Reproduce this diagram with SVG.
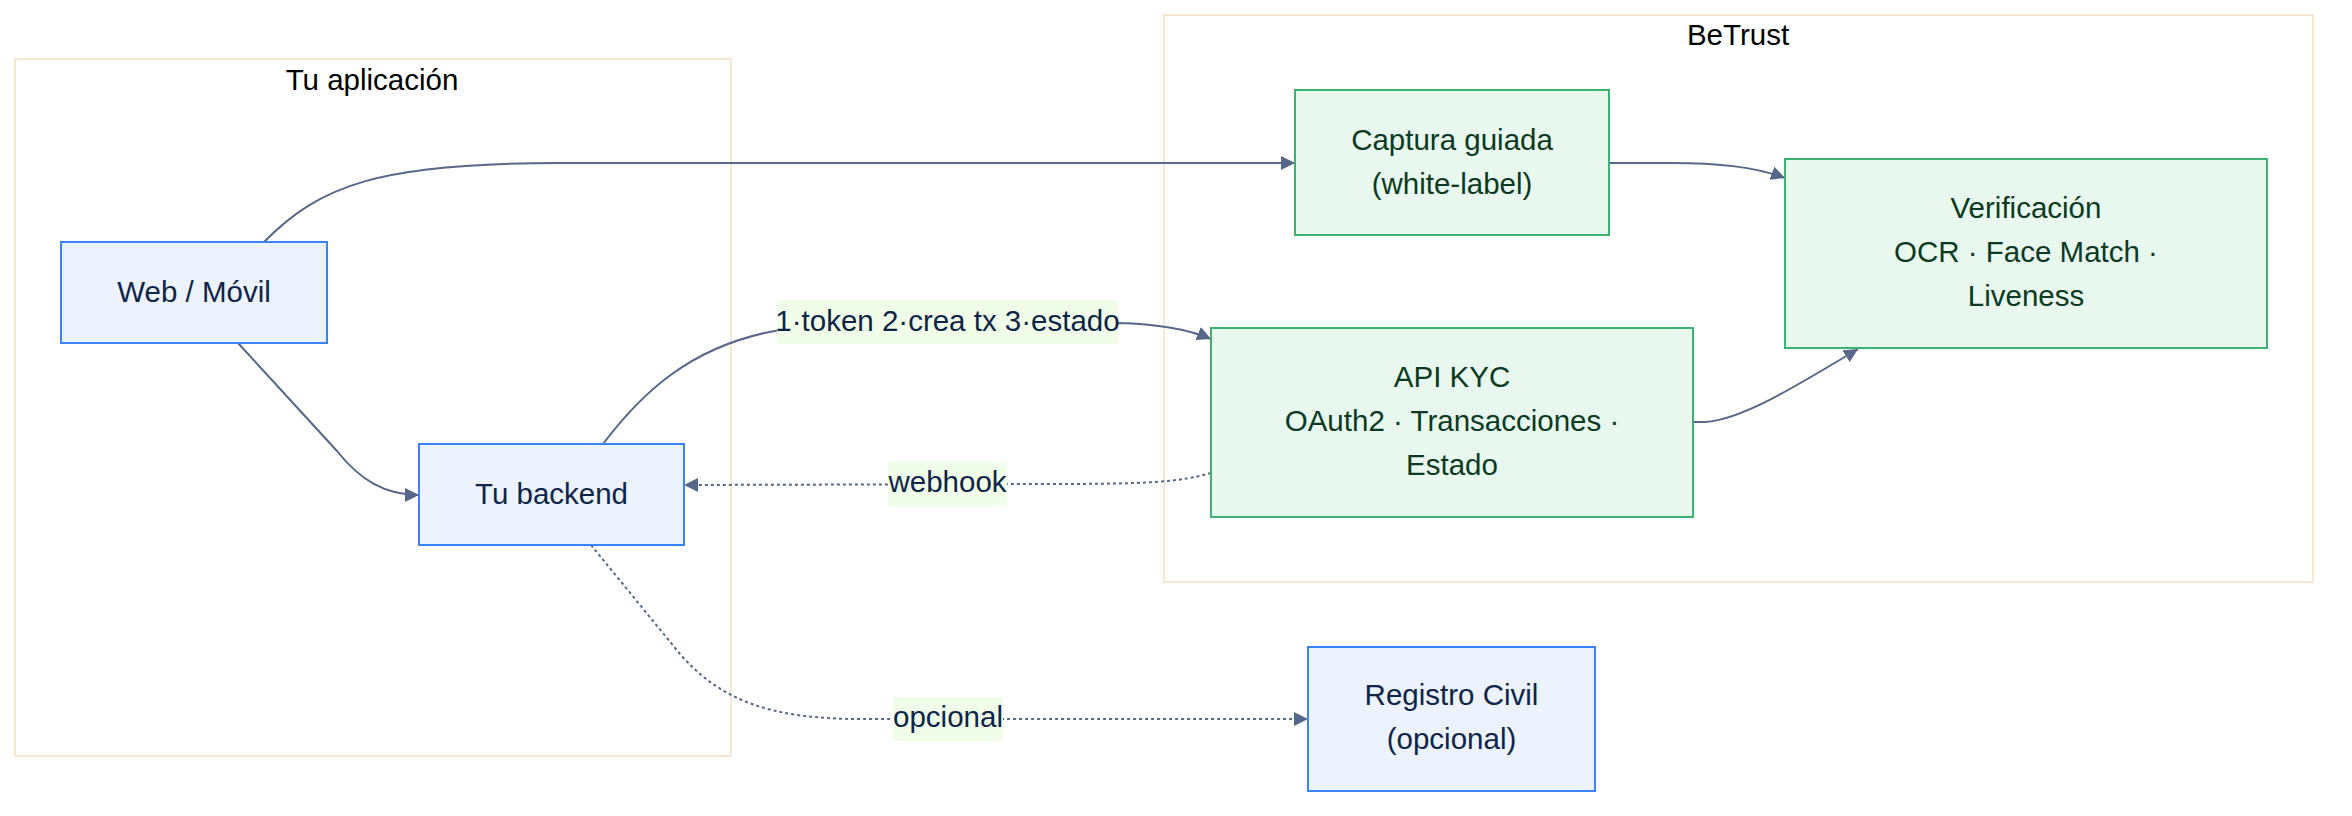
<svg xmlns="http://www.w3.org/2000/svg" width="2352" height="816" viewBox="0 0 2352 816">
<style>
text{font-family:"Liberation Sans",Arial,Helvetica,sans-serif;font-size:29.5px;text-anchor:middle}
.cluster{fill:#ffffff;stroke:#f5e7d0;stroke-width:2}
.ctitle{fill:#000000}
.blue rect{fill:#edf3fe;stroke:#3b82f6;stroke-width:2}
.blue text{fill:#0f2547}
.green rect{fill:#e8f8ee;stroke:#3cb371;stroke-width:2}
.green text{fill:#0b3a22}
.edge{fill:none;stroke:#56678a;stroke-width:2}
.dot{stroke-dasharray:3 3}
.lbg{fill:#f0fde8}
.ltxt{fill:#0f2547}
</style>
<defs>
<marker id="arr" viewBox="0 0 10 10" refX="10" refY="5" markerWidth="14" markerHeight="14" markerUnits="userSpaceOnUse" orient="auto">
<path d="M0,0 L10,5 L0,10 z" fill="#56678a"/>
</marker>
</defs>
<g id="cluster-app">
<rect class="cluster" x="15" y="59" width="716" height="697"/>
<text class="ctitle" x="372" y="90">Tu aplicación</text>
</g>
<g id="cluster-betrust">
<rect class="cluster" x="1164" y="15" width="1149" height="567"/>
<text class="ctitle" x="1738" y="45">BeTrust</text>
</g>
<g id="connectors">
<path class="edge" d="M264,242 C320,185 380,163 560,163 L1295,163" marker-end="url(#arr)"/>
<path class="edge" d="M238,343 L337,451 C360,480 385,495 419,495" marker-end="url(#arr)"/>
<path class="edge" d="M603,444 C640,395 690,345 780,330 L1118,323 C1160,324 1190,330 1211,339" marker-end="url(#arr)"/>
<path class="edge dot" d="M1211,473 C1180,482 1150,484 1050,484 L684,485" marker-end="url(#arr)"/>
<path class="edge dot" d="M591,545 L680,654 C720,700 770,719 860,719 L1308,719" marker-end="url(#arr)"/>
<path class="edge" d="M1609,163 L1670,163 C1720,163 1755,167 1785,178" marker-end="url(#arr)"/>
<path class="edge" d="M1693,422 L1705,422 C1740,420 1790,390 1858,349" marker-end="url(#arr)"/>
<rect class="lbg" x="777" y="300" width="341" height="44"/>
<text class="ltxt" x="947.5" y="331">1·token 2·crea tx 3·estado</text>
<rect class="lbg" x="888" y="462" width="119" height="44"/>
<text class="ltxt" x="947.5" y="492">webhook</text>
<rect class="lbg" x="893" y="697" width="110" height="44"/>
<text class="ltxt" x="948" y="727">opcional</text>
</g>
<g id="node-web" class="blue">
<rect x="61" y="242" width="266" height="101"/>
<text x="194" y="302">Web / Móvil</text>
</g>
<g id="node-backend" class="blue">
<rect x="419" y="444" width="265" height="101"/>
<text x="551.5" y="504">Tu backend</text>
</g>
<g id="node-captura" class="green">
<rect x="1295" y="90" width="314" height="145"/>
<text x="1452" y="150">Captura guiada</text>
<text x="1452" y="194">(white-label)</text>
</g>
<g id="node-verificacion" class="green">
<rect x="1785" y="159" width="482" height="189"/>
<text x="2026" y="218">Verificación</text>
<text x="2026" y="262">OCR · Face Match ·</text>
<text x="2026" y="306">Liveness</text>
</g>
<g id="node-api" class="green">
<rect x="1211" y="328" width="482" height="189"/>
<text x="1452" y="387">API KYC</text>
<text x="1452" y="431">OAuth2 · Transacciones ·</text>
<text x="1452" y="475">Estado</text>
</g>
<g id="node-registro" class="blue">
<rect x="1308" y="647" width="287" height="144"/>
<text x="1451.5" y="705">Registro Civil</text>
<text x="1451.5" y="749">(opcional)</text>
</g>
</svg>
